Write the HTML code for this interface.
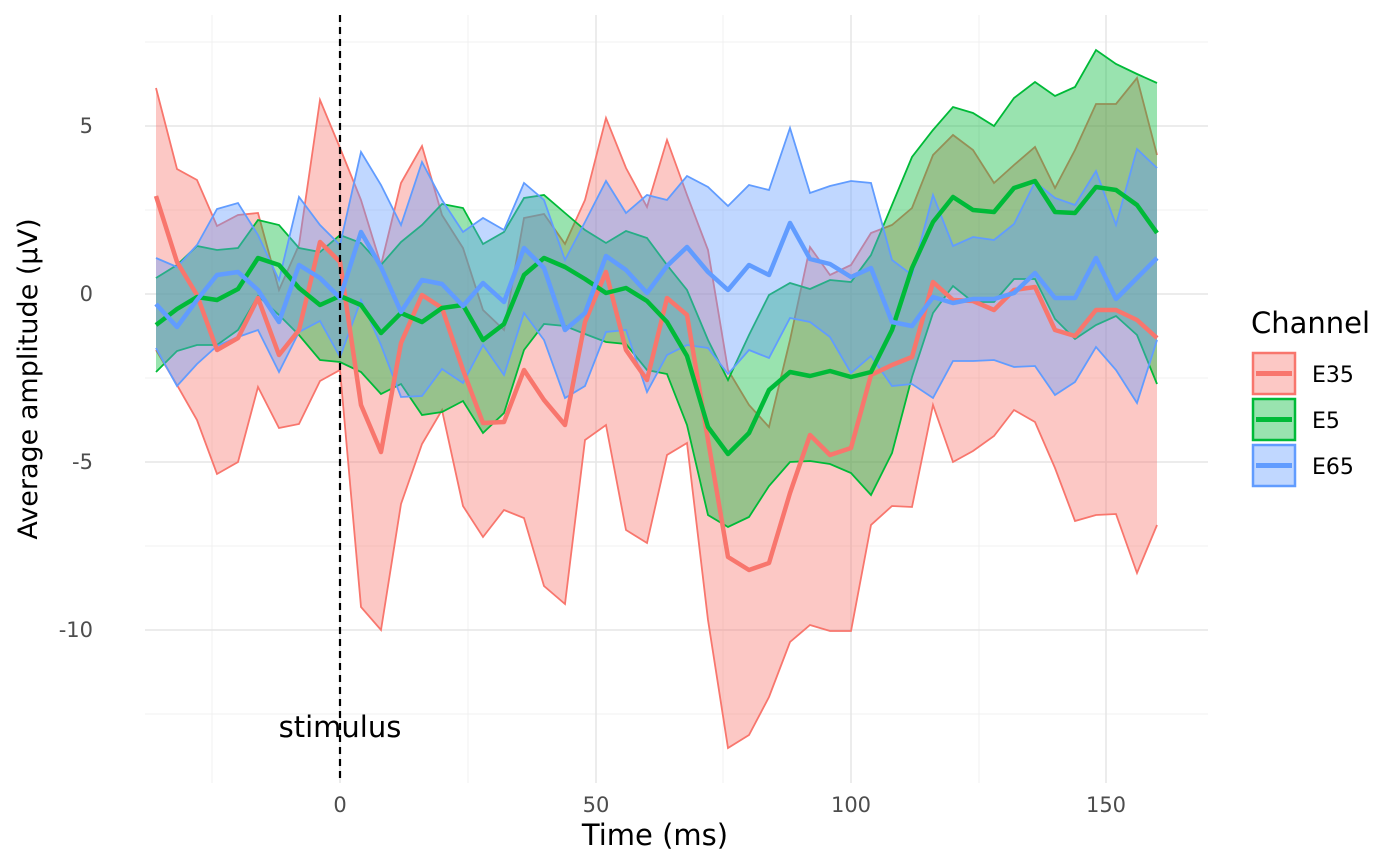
<!DOCTYPE html>
<html><head><meta charset="utf-8">
<style>body{margin:0;background:#fff}svg{display:block;font-family:"DejaVu Sans","Liberation Sans",sans-serif}</style>
</head><body>
<svg id="s" width="1400" height="866" xmlns="http://www.w3.org/2000/svg">
<g stroke="#f0f0f0" stroke-width="1">
<line x1="145" x2="1208" y1="42" y2="42"/><line x1="145" x2="1208" y1="210" y2="210"/><line x1="145" x2="1208" y1="378" y2="378"/><line x1="145" x2="1208" y1="546" y2="546"/><line x1="145" x2="1208" y1="714" y2="714"/>
<line y1="15" y2="783" x1="212" x2="212"/><line y1="15" y2="783" x1="468" x2="468"/><line y1="15" y2="783" x1="723" x2="723"/><line y1="15" y2="783" x1="979" x2="979"/>
</g>
<g stroke="#e6e6e6" stroke-width="1.5">
<line x1="145" x2="1208" y1="126" y2="126"/><line x1="145" x2="1208" y1="294" y2="294"/><line x1="145" x2="1208" y1="462" y2="462"/><line x1="145" x2="1208" y1="630" y2="630"/>
<line y1="15" y2="783" x1="340" x2="340"/><line y1="15" y2="783" x1="596" x2="596"/><line y1="15" y2="783" x1="851" x2="851"/><line y1="15" y2="783" x1="1106" x2="1106"/>
</g>
<g id="plot"></g>
<line x1="340" x2="340" y1="15" y2="783" stroke="#000" stroke-width="2.2" stroke-dasharray="7,5"/>
<text x="340" y="737" font-size="29" text-anchor="middle" fill="#000">stimulus</text>
<g font-size="21" fill="#4d4d4d" text-anchor="end">
<text x="93" y="133">5</text><text x="93" y="301">0</text><text x="93" y="469">-5</text><text x="93" y="637">-10</text>
</g>
<g font-size="21" fill="#4d4d4d" text-anchor="middle">
<text x="340" y="812">0</text><text x="596" y="812">50</text><text x="851" y="812">100</text><text x="1106" y="812">150</text>
</g>
<text x="655" y="845" font-size="29" text-anchor="middle" fill="#000">Time (ms)</text>
<text transform="translate(37,379) rotate(-90)" font-size="27" text-anchor="middle" fill="#000">Average amplitude (μV)</text>
<text x="1251" y="333" font-size="29" fill="#000">Channel</text>
<g id="leg"></g>
</svg>
<script>
var X=[156,177,197,217,238,258,279,299,320,340,361,381,401,422,442,463,483,504,524,544,565,585,606,626,647,667,687,708,728,749,769,790,810,830,851,871,892,912,933,953,973,994,1014,1035,1055,1075,1096,1116,1137,1157];
var S=[
{c:"#F8766D",
u:[88,169,180,226,215,213,290,245,100,148,200,265,183,146,215,248,310,330,218,214,244,200,118,168,207,140,195,250,370,405,427,340,247,275,265,233,225,208,155,135,150,183,165,147,188,150,104,104,78,155],
l:[350,385,420,474,462,387,428,424,381,370,607,630,504,444,410,506,537,510,518,586,604,440,425,530,543,455,443,620,748,735,697,642,625,631,631,525,506,507,405,462,451,436,410,422,468,521,515,514,573,525],
m:[196,262,295,350,338,298,355,330,242,262,405,452,343,295,308,370,423,422,370,400,425,322,272,350,380,298,315,440,557,570,563,493,435,455,448,375,365,357,282,300,301,310,290,287,330,336,310,310,320,338]},
{c:"#00BA38",
u:[278,265,246,250,248,220,225,248,252,235,243,265,242,225,204,208,244,232,198,195,213,230,243,231,238,265,290,340,380,335,295,283,289,280,282,255,205,157,130,107,113,126,98,82,96,87,50,64,74,83],
l:[372,351,345,345,330,296,315,335,360,362,372,394,384,415,412,401,433,413,350,324,326,334,342,344,370,374,425,515,527,517,486,462,461,464,473,495,453,377,313,286,302,302,279,279,319,339,325,316,335,384],
m:[325,309,297,300,289,258,265,288,305,296,305,333,313,322,308,305,340,324,275,258,267,279,293,288,301,322,356,427,454,433,390,372,376,371,377,372,330,268,222,197,210,212,188,181,212,213,187,190,205,233]},
{c:"#619CFF",
u:[258,267,245,209,203,235,280,197,225,245,152,185,225,162,200,232,218,230,183,200,260,222,181,213,195,200,176,187,206,185,190,128,193,186,181,183,260,275,195,246,237,240,224,182,198,205,171,225,149,168],
l:[348,386,364,346,337,330,372,332,321,357,300,345,397,396,369,383,345,375,313,340,398,386,332,330,392,355,345,348,374,350,358,318,322,337,373,356,386,384,398,361,361,360,367,366,395,382,347,370,403,340],
m:[304,327,300,275,272,290,322,265,278,298,232,267,312,280,284,306,283,302,248,268,330,313,256,270,293,266,247,272,290,265,275,223,259,264,277,268,322,326,297,303,299,299,293,273,298,298,258,299,278,258]}];
function pl(a){return a.map(function(y,i){return X[i]+","+y}).join(" ");}
var h="";
S.forEach(function(s){
 var pts=pl(s.u)+" "+s.l.map(function(y,i){return X[i]+","+y}).reverse().join(" ");
 h+='<polygon points="'+pts+'" fill="'+s.c+'" fill-opacity="0.4" stroke="none"/>';
 h+='<polyline points="'+pl(s.u)+'" fill="none" stroke="'+s.c+'" stroke-width="1.8"/>';
 h+='<polyline points="'+pl(s.l)+'" fill="none" stroke="'+s.c+'" stroke-width="1.8"/>';
});
S.forEach(function(s){h+='<polyline points="'+pl(s.m)+'" fill="none" stroke="'+s.c+'" stroke-width="4.5" stroke-linejoin="round"/>';});
document.getElementById("plot").innerHTML=h;
var g="",names=["E35","E5","E65"];
S.forEach(function(s,i){var y=353+i*46;
g+='<rect x="1253" y="'+y+'" width="42" height="41" fill="'+s.c+'" fill-opacity="0.4" stroke="'+s.c+'" stroke-width="2.5"/>';
g+='<line x1="1256" x2="1292" y1="'+(y+20.5)+'" y2="'+(y+20.5)+'" stroke="'+s.c+'" stroke-width="5"/>';
g+='<text x="1312" y="'+(y+29)+'" font-size="22" fill="#000">'+names[i]+'</text>';});
document.getElementById("leg").innerHTML=g;
</script>
</body></html>
